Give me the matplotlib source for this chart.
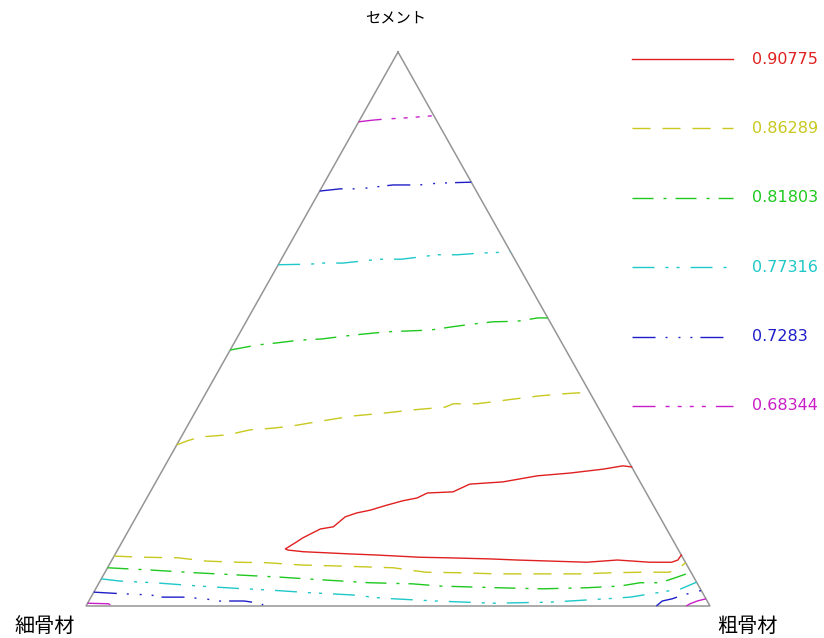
import matplotlib
matplotlib.use("Agg")
import matplotlib.pyplot as plt

plt.rcParams['lines.scale_dashes'] = False
plt.rcParams['font.family'] = ['Noto Sans CJK JP', 'DejaVu Sans']

# ---------------- data ----------------
vertex_labels = ['セメント', '細骨材', '粗骨材']   # top, bottom-left, bottom-right
level_labels = ['0.90775', '0.86289', '0.81803', '0.77316', '0.7283', '0.68344']
level_colors = ['#e02020', '#c8c81e', '#1ec81e', '#1ec8c8', '#1e1ec8', '#c81ec8']
level_dashes = [
    None,
    (13, 8.6),
    (15.1, 7.2, 2.2, 6.5),
    (15.8, 7.9, 2.2, 5.8, 2.2, 7.9),
    (16.6, 7.2, 1.4, 7.9, 1.4, 7.2, 1.4, 5.8),
    (16.6, 7.2, 2.9, 5.8, 2.9, 5.8, 2.9, 5.8, 2.9, 7.2),
]

# contour polylines as compositions: cement fraction, coarse-aggregate fraction
# level 0.90775
red_cement = [0.251, 0.253, 0.247, 0.240, 0.235, 0.224, 0.220, 0.206, 0.204, 0.195,
              0.190, 0.182, 0.173, 0.168, 0.161, 0.143, 0.139, 0.123, 0.116, 0.103,
              0.101, 0.098, 0.094, 0.092, 0.088, 0.087, 0.085, 0.083, 0.079, 0.083,
              0.079, 0.079, 0.083, 0.092]
red_coarse = [0.749, 0.734, 0.705, 0.656, 0.606, 0.556, 0.505, 0.485, 0.445, 0.433,
              0.413, 0.391, 0.369, 0.350, 0.335, 0.325, 0.306, 0.286, 0.280, 0.268,
              0.273, 0.299, 0.376, 0.420, 0.491, 0.535, 0.605, 0.649, 0.763, 0.810,
              0.864, 0.899, 0.907, 0.908]
# level 0.86289
yellow_up_cement = [0.291, 0.298, 0.305, 0.309, 0.318, 0.321, 0.325, 0.334, 0.343, 0.348,
                    0.354, 0.359, 0.365, 0.365, 0.372, 0.379, 0.383, 0.386]
yellow_up_coarse = [0.000, 0.013, 0.030, 0.073, 0.104, 0.139, 0.168, 0.211, 0.256, 0.302,
                    0.347, 0.396, 0.406, 0.444, 0.489, 0.535, 0.573, 0.614]
yellow_lo_cement = [0.090, 0.088, 0.087, 0.081, 0.079, 0.078, 0.074, 0.072, 0.069, 0.061,
                    0.060, 0.058, 0.058, 0.058, 0.060, 0.061, 0.061, 0.067, 0.078]
yellow_lo_coarse = [0.000, 0.049, 0.104, 0.153, 0.204, 0.253, 0.308, 0.374, 0.458, 0.514,
                    0.568, 0.630, 0.713, 0.764, 0.813, 0.862, 0.904, 0.915, 0.922]
# level 0.81803
green_up_cement = [0.462, 0.471, 0.475, 0.480, 0.482, 0.489, 0.495, 0.498, 0.504, 0.509,
                   0.513, 0.514, 0.520, 0.520]
green_up_coarse = [0.000, 0.038, 0.069, 0.103, 0.137, 0.183, 0.235, 0.302, 0.335, 0.366,
                   0.396, 0.434, 0.464, 0.480]
green_lo_cement = [0.069, 0.065, 0.060, 0.056, 0.052, 0.047, 0.042, 0.040, 0.036, 0.033,
                   0.031, 0.033, 0.036, 0.042, 0.042, 0.051, 0.061]
green_lo_coarse = [0.000, 0.070, 0.145, 0.216, 0.286, 0.358, 0.433, 0.503, 0.549, 0.642,
                   0.715, 0.787, 0.838, 0.867, 0.899, 0.919, 0.939]
# level 0.77316
cyan_up_cement = [0.616, 0.617, 0.619, 0.619, 0.626, 0.626, 0.634, 0.634, 0.637, 0.639]
cyan_up_coarse = [0.000, 0.050, 0.070, 0.102, 0.158, 0.193, 0.246, 0.278, 0.313, 0.361]
cyan_lo_cement = [0.049, 0.045, 0.042, 0.036, 0.031, 0.029, 0.024, 0.020, 0.014, 0.009,
                  0.005, 0.007, 0.013, 0.016, 0.025, 0.031, 0.043]
cyan_lo_coarse = [0.000, 0.032, 0.088, 0.163, 0.238, 0.277, 0.346, 0.416, 0.469, 0.556,
                  0.650, 0.742, 0.827, 0.864, 0.909, 0.938, 0.957]
# level 0.7283
blue_up_cement = [0.749, 0.753, 0.753, 0.758, 0.760, 0.760, 0.762, 0.764, 0.765]
blue_up_coarse = [0.000, 0.031, 0.063, 0.097, 0.112, 0.155, 0.166, 0.202, 0.235]
blue_lo1_cement = [0.025, 0.022, 0.020, 0.016, 0.016, 0.013, 0.009, 0.009, 0.005, 0.002]
blue_lo1_coarse = [0.000, 0.048, 0.093, 0.114, 0.147, 0.184, 0.209, 0.249, 0.276, 0.283]
blue_lo2_cement = [0.000, 0.009, 0.013, 0.020, 0.025, 0.028]
blue_lo2_coarse = [0.914, 0.919, 0.933, 0.947, 0.963, 0.972]
# level 0.68344
magenta_up_cement = [0.874, 0.877, 0.879, 0.881, 0.885]
magenta_up_coarse = [0.000, 0.021, 0.040, 0.071, 0.115]
magenta_lo1_cement = [0.005, 0.004, 0.000]
magenta_lo1_coarse = [0.000, 0.034, 0.042]
magenta_lo2_cement = [0.000, 0.004, 0.009, 0.013]
magenta_lo2_coarse = [0.962, 0.966, 0.975, 0.987]

contours = [
    [(red_cement, red_coarse)],
    [(yellow_up_cement, yellow_up_coarse), (yellow_lo_cement, yellow_lo_coarse)],
    [(green_up_cement, green_up_coarse), (green_lo_cement, green_lo_coarse)],
    [(cyan_up_cement, cyan_up_coarse), (cyan_lo_cement, cyan_lo_coarse)],
    [(blue_up_cement, blue_up_coarse), (blue_lo1_cement, blue_lo1_coarse),
     (blue_lo2_cement, blue_lo2_coarse)],
    [(magenta_up_cement, magenta_up_coarse), (magenta_lo1_cement, magenta_lo1_coarse),
     (magenta_lo2_cement, magenta_lo2_coarse)],
]


def to_xy(cement, coarse):
    x = [b + c / 2.0 for c, b in zip(cement, coarse)]
    y = list(cement)
    return x, y


# ---------------- figure ----------------
W, H = 824, 638
fig = plt.figure(figsize=(W / 100, H / 100), dpi=100)
fig.patch.set_facecolor('white')

ax = fig.add_axes([86 / W, (H - 606) / H, 624 / W, 554 / H])
ax.set_xlim(0, 1)
ax.set_ylim(0, 1)
ax.axis('off')

# triangle frame: vertices cement, fine, coarse
tri_cement = [1, 0, 0, 1]
tri_coarse = [0, 0, 1, 0]
tx, ty = to_xy(tri_cement, tri_coarse)
ax.plot(tx, ty, color='#959595', lw=1.1, clip_on=False, solid_joinstyle='miter')

for segs, col, dsh in zip(contours, level_colors, level_dashes):
    for cem, crs in segs:
        x, y = to_xy(cem, crs)
        line, = ax.plot(x, y, color=col, lw=1.0, clip_on=False)
        if dsh is not None:
            line.set_dashes(dsh)

# vertex labels
ax.annotate(vertex_labels[0], xy=(0.5, 1.0), xytext=(-2, 24.5), textcoords='offset points',
            ha='center', va='center', fontsize=11, color='black',
            family=['Noto Sans CJK JP', 'DejaVu Sans'])
ax.annotate(vertex_labels[1], xy=(0.0, 0.0), xytext=(-30, -14.5), textcoords='offset points',
            ha='center', va='center', fontsize=14.5, color='black',
            family=['Noto Sans CJK JP', 'DejaVu Sans'])
ax.annotate(vertex_labels[2], xy=(1.0, 0.0), xytext=(26.6, -15), textcoords='offset points',
            ha='center', va='center', fontsize=14.5, color='black',
            family=['Noto Sans CJK JP', 'DejaVu Sans'])

# legend (manual, right side)
lax = fig.add_axes([632 / W, (H - 406) / H, (733 - 632) / W, (406 - 59) / H])
lax.set_xlim(0, 1)
lax.set_ylim(len(level_labels) - 1, 0)
lax.axis('off')
for i, (lab, col, dsh) in enumerate(zip(level_labels, level_colors, level_dashes)):
    ln, = lax.plot([0, 1], [i, i], color=col, lw=1.0, clip_on=False)
    if dsh is not None:
        ln.set_dashes(dsh)
    lax.text(1 + 19 / 101, i, lab, color=col, ha='left', va='center',
             fontsize=11.5, family=['DejaVu Sans'])

fig.savefig('out.png', dpi=100, facecolor='white')
